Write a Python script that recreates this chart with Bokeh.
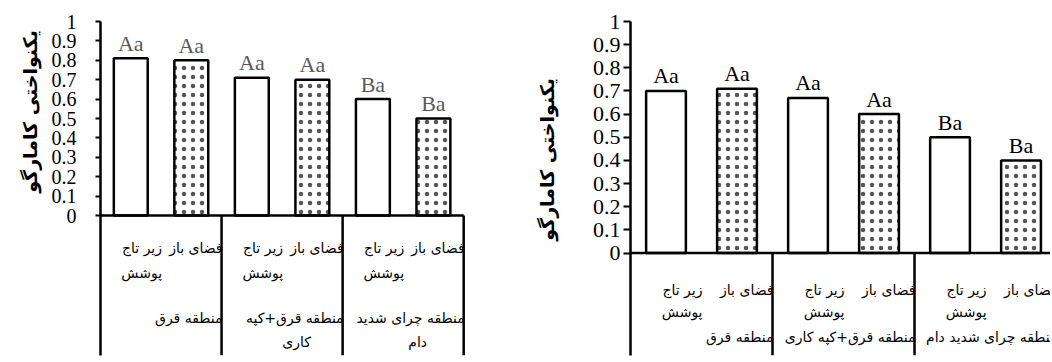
from math import pi
from bokeh.plotting import figure
from bokeh.models import Range1d, FixedTicker, ColumnDataSource
from bokeh.layouts import row
from bokeh.embed import file_html
from bokeh.resources import INLINE
from bokeh.core.properties import value

# ---------------- data ----------------
cover = ["زیر تاج", "فضای باز"]          # first line of category label
cover_line2 = ["پوشش", ""]               # second line of category label
zones_left_l1 = ["منطقه قرق", "منطقه قرق+کپه", "منطقه چرای شدید"]
zones_left_l2 = ["", "کاری", "دام"]
zones_right = ["منطقه قرق", "منطقه قرق+کپه کاری", "منطقه چرای شدید دام"]
patterns = ["none", "dots"]

left_values = [0.81, 0.80, 0.71, 0.70, 0.60, 0.50]
left_letters = ["Aa", "Aa", "Aa", "Aa", "Ba", "Ba"]
right_values = [0.70, 0.71, 0.67, 0.60, 0.50, 0.40]
right_letters = ["Aa", "Aa", "Aa", "Aa", "Ba", "Ba"]

tick_values = [0, 0.1, 0.2, 0.3, 0.4, 0.5, 0.6, 0.7, 0.8, 0.9, 1]
tick_labels = ["0", "0.1", "0.2", "0.3", "0.4", "0.5", "0.6", "0.7", "0.8", "0.9", "1"]
y_title = "یکنواختی کامارگو"

SERIF = "Liberation Serif"
ARABIC = "DejaVu Sans"
H = 360


def make_chart(values, letters, letter_color, y_lo, x_hi, width, border_left,
               border_right, border_bottom, tick_font, standoff, tick_out,
               line1_off, line2_off, group_off, group_l1, group_l2, group2_off):
    n = len(values)
    p = figure(width=width, height=H, output_backend="svg", toolbar_location=None,
               x_range=Range1d(0, x_hi), y_range=Range1d(y_lo, 1.0),
               x_axis_location=None, min_border_left=border_left,
               min_border_right=border_right, min_border_top=21,
               min_border_bottom=border_bottom)
    p.outline_line_color = None
    p.xgrid.visible = False
    p.ygrid.visible = False

    xs = [i + 0.5 for i in range(n)]
    hatched = [patterns[i % 2] == "dots" for i in range(n)]
    plain_src = ColumnDataSource(dict(x=[x for x, h in zip(xs, hatched) if not h],
                                      top=[v for v, h in zip(values, hatched) if not h]))
    dot_src = ColumnDataSource(dict(x=[x for x, h in zip(xs, hatched) if h],
                                    top=[v for v, h in zip(values, hatched) if h]))
    p.vbar(x="x", top="top", bottom=0, width=0.56, source=plain_src,
           fill_color="white", line_color="black", line_width=2.5)
    p.vbar(x="x", top="top", bottom=0, width=0.56, source=dot_src,
           fill_color="white", line_color="black", line_width=2.5,
           hatch_pattern="dot", hatch_color="#555555", hatch_scale=9,
           hatch_weight=0.1)

    # letters above bars
    p.text(x=xs, y=values, text=letters, text_font=value(SERIF), text_font_size="22px",
           text_color=letter_color, text_align="center", text_baseline="alphabetic",
           y_offset=-15)

    # zero line
    p.segment(x0=[0], y0=[0], x1=[n], y1=[0], line_color="black", line_width=2.5)
    # group dividers
    ng = n // 2
    gx = [2 * (g + 1) for g in range(ng)]
    p.segment(x0=gx, y0=[0] * ng, x1=gx, y1=[y_lo] * ng,
              line_color="black", line_width=2.5)

    # category labels (right aligned on the category's right edge)
    cat_x = [i + 1 for i in range(n)]
    p.text(x=cat_x, y=[0] * n, text=[cover[i % 2] for i in range(n)],
           text_font=value(ARABIC), text_font_size="14px", text_align="right",
           text_baseline="middle", y_offset=line1_off, x_offset=1)
    p.text(x=cat_x, y=[0] * n, text=[cover_line2[i % 2] for i in range(n)],
           text_font=value(ARABIC), text_font_size="14px", text_align="right",
           text_baseline="middle", y_offset=line2_off, x_offset=1)
    p.text(x=gx, y=[0] * ng, text=group_l1, text_font=value(ARABIC),
           text_font_size="14px", text_align="right", text_baseline="middle",
           y_offset=group_off, x_offset=1)
    if group_l2 is not None:
        p.text(x=gx, y=[0] * ng, text=group_l2, text_font=value(ARABIC),
               text_font_size="14px", text_align="center", text_baseline="middle",
               y_offset=group_off + 24, x_offset=group2_off)

    ax = p.yaxis[0]
    ax.ticker = FixedTicker(ticks=tick_values)
    ax.major_label_overrides = {t: l for t, l in zip(tick_values, tick_labels)}
    ax.minor_tick_line_color = None
    ax.major_tick_in = 0
    ax.major_tick_out = tick_out
    ax.major_tick_line_width = 2
    ax.axis_line_width = 2.5
    ax.major_label_standoff = standoff
    ax.major_label_text_font = SERIF
    ax.major_label_text_font_size = tick_font
    ax.major_label_text_color = "black"
    return p


def make_title(y_range, width, x_pos, y_pos, border_bottom):
    """Narrow companion figure that carries the rotated y-axis title."""
    t = figure(width=width, height=H, output_backend="svg", toolbar_location=None,
               x_range=Range1d(0, 1), y_range=y_range, x_axis_location=None,
               y_axis_location=None, min_border_left=0, min_border_right=0,
               min_border_top=21, min_border_bottom=border_bottom)
    t.outline_line_color = None
    t.xgrid.visible = False
    t.ygrid.visible = False
    t.text(x=[x_pos], y=[y_pos], text=[y_title], angle=pi / 2,
           text_font=value(ARABIC), text_font_style="bold", text_font_size="19px",
           text_align="center", text_baseline="middle")
    return t


p1 = make_chart(left_values, left_letters, "#595959", y_lo=-0.7216, x_hi=6.03,
                width=456, border_left=56, border_right=35, border_bottom=5,
                tick_font="20px", standoff=19, tick_out=5,
                line1_off=32, line2_off=57, group_off=102,
                group_l1=zones_left_l1, group_l2=zones_left_l2, group2_off=-46)
p2 = make_chart(right_values, right_letters, "black", y_lo=-0.4426, x_hi=5.915,
                width=480, border_left=60, border_right=0, border_bottom=0,
                tick_font="22px", standoff=3, tick_out=7,
                line1_off=37, line2_off=59, group_off=84,
                group_l1=zones_right, group_l2=None, group2_off=0)
t1 = make_title(p1.y_range, 44, 0.68, 0.536, 5)
t2 = make_title(p2.y_range, 70, 0.671, 0.404, 0)

layout = row(t1, p1, t2, p2)
open("out.html", "w").write(file_html(layout, INLINE))
